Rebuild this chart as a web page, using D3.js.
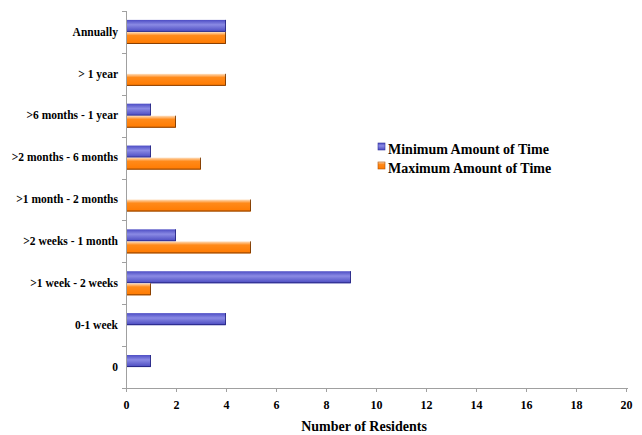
<!DOCTYPE html>
<html>
<head>
<meta charset="utf-8">
<script src="https://cdn.jsdelivr.net/npm/d3@7"></script>
<style>
  body { margin: 0; background: #fff; }
</style>
</head>
<body>
<div id="chart"></div>
<script>
const categories = ["Annually", "> 1 year", ">6 months - 1 year", ">2 months - 6 months",
    ">1 month - 2 months", ">2 weeks - 1 month", ">1 week - 2 weeks", "0-1 week", "0"];
const minValues = [4, 0, 1, 1, 0, 2, 9, 4, 1];
const maxValues = [4, 4, 2, 3, 5, 5, 1, 0, 0];
const seriesNames = ["Minimum Amount of Time", "Maximum Amount of Time"];
const xTicks = [0, 2, 4, 6, 8, 10, 12, 14, 16, 18, 20];

const W = 642, H = 435;
const plotLeft = 126, plotRight = 626, plotTop = 11, plotBottom = 388;
const FONT = "'Liberation Serif', 'Times New Roman', serif";

const svg = d3.select("#chart").append("svg")
    .attr("width", W).attr("height", H);

const defs = svg.append("defs");
const blueGrad = defs.append("linearGradient").attr("id", "gBlue")
    .attr("x1", 0).attr("y1", 0).attr("x2", 0).attr("y2", 1);
blueGrad.append("stop").attr("offset", "0%").attr("stop-color", "#4c4cc4");
blueGrad.append("stop").attr("offset", "40%").attr("stop-color", "#8a8ae4");
blueGrad.append("stop").attr("offset", "100%").attr("stop-color", "#4848bf");
const orangeGrad = defs.append("linearGradient").attr("id", "gOrange")
    .attr("x1", 0).attr("y1", 0).attr("x2", 0).attr("y2", 1);
orangeGrad.append("stop").attr("offset", "0%").attr("stop-color", "#ffe0c0");
orangeGrad.append("stop").attr("offset", "30%").attr("stop-color", "#ff8a1a");
orangeGrad.append("stop").attr("offset", "100%").attr("stop-color", "#ff7a00");

const x = d3.scaleLinear().domain([0, 20]).range([plotLeft, plotRight]);
const y = d3.scaleBand().domain(categories).range([plotTop, plotBottom]).padding(0);
const inner = d3.scaleBand().domain(["min", "max"]).range([0, y.bandwidth()])
    .paddingInner(0).paddingOuter(0.74);

const data = categories.map((c, i) => ({ cat: c, min: minValues[i], max: maxValues[i] }));
const fills = { min: "url(#gBlue)", max: "url(#gOrange)" };
const edge = { min: "#20207a", max: "#6a3000" };

// bars
const groups = svg.selectAll(".grp")
    .data(data)
    .join("g")
    .attr("class", "grp")
    .attr("transform", d => `translate(0,${y(d.cat)})`);

["min", "max"].forEach(k => {
    groups.filter(d => d[k] > 0).append("rect")
        .attr("x", x(0))
        .attr("y", inner(k))
        .attr("width", d => x(d[k]) - x(0))
        .attr("height", inner.bandwidth())
        .attr("fill", fills[k]);
    // dark shadow on bottom and right edge
    groups.filter(d => d[k] > 0).append("path")
        .attr("d", d => `M${x(0)},${inner(k) + inner.bandwidth() - 0.5}H${x(d[k]) - 0.5}V${inner(k)}`)
        .attr("fill", "none")
        .attr("stroke", edge[k])
        .attr("stroke-opacity", 0.8)
        .attr("stroke-width", 1);
});

// y axis
const yAxis = svg.append("g")
    .attr("transform", `translate(${plotLeft},0)`)
    .call(d3.axisLeft(y).tickSize(0).tickPadding(8));
yAxis.attr("font-family", FONT).attr("font-weight", "bold").attr("font-size", 11.5);
yAxis.select(".domain").remove();

svg.append("line")
    .attr("x1", plotLeft + 0.5).attr("x2", plotLeft + 0.5)
    .attr("y1", plotTop).attr("y2", plotBottom)
    .attr("stroke", "#a0a0a0");
const bounds = categories.map(c => y(c)).concat([plotBottom]);
svg.selectAll(".ytick").data(bounds).join("line")
    .attr("x1", plotLeft - 4).attr("x2", plotLeft + 1)
    .attr("y1", d => Math.round(d) + 0.5).attr("y2", d => Math.round(d) + 0.5)
    .attr("stroke", "#a0a0a0");

// x axis
const xAxis = svg.append("g")
    .attr("transform", `translate(0,${plotBottom})`)
    .call(d3.axisBottom(x).tickValues(xTicks).tickSize(4).tickPadding(8).tickFormat(d3.format("d")));
xAxis.attr("font-family", FONT).attr("font-weight", "bold").attr("font-size", 12);
xAxis.select(".domain").attr("stroke", "#a0a0a0").attr("d", `M${plotLeft},0.5H${plotRight + 2}`);
xAxis.selectAll(".tick line").attr("stroke", "#a0a0a0");

svg.append("text")
    .attr("x", 364).attr("y", 431)
    .attr("text-anchor", "middle")
    .attr("font-family", FONT).attr("font-weight", "bold")
    .attr("font-size", 14)
    .text("Number of Residents");

// legend
const legend = svg.append("g").attr("transform", "translate(378,143)")
    .attr("font-family", FONT).attr("font-weight", "bold").attr("font-size", 14);
seriesNames.forEach((name, i) => {
    legend.append("rect")
        .attr("x", 0).attr("y", i * 19)
        .attr("width", 7).attr("height", 7)
        .attr("fill", i === 0 ? "url(#gBlue)" : "url(#gOrange)")
        .attr("stroke", i === 0 ? "#30309a" : "#b05000")
        .attr("stroke-width", 0.6);
    legend.append("text")
        .attr("x", 10).attr("y", i * 19 + 11)
        .text(name);
});
</script>
</body>
</html>
